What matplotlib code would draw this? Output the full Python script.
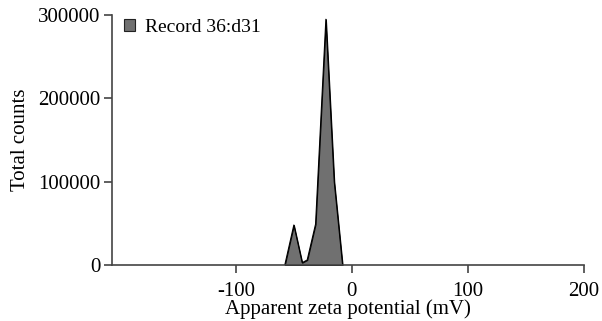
import matplotlib.pyplot as plt

zeta = [-57.8, -50.0, -42.8, -38.5, -31.3, -22.4, -15.2, -8.0]
counts = [0, 48000, 2800, 6000, 49000, 295000, 100000, 0]
label = "Record 36:d31"
xticks = [-100, 0, 100, 200]
yticks = [0, 100000, 200000, 300000]

plt.rcParams['font.family'] = 'Liberation Serif'
plt.rcParams['font.size'] = 15
plt.rcParams['axes.unicode_minus'] = False

fig = plt.figure(figsize=(6.02, 3.21), dpi=100)
ax = fig.add_axes([0.1855, 0.1745, 0.7845, 0.7785])

ax.fill_between(zeta, counts, color='#707070', edgecolor='black', linewidth=0.8, label=label)
ax.plot(zeta, counts, color='black', linewidth=0.8)

ax.set_xlim(-207, 200)
ax.set_ylim(0, 300000)
ax.set_xticks(xticks)
ax.set_yticks(yticks)
ax.set_yticklabels([str(v) for v in yticks])

for s in ['top', 'right']:
    ax.spines[s].set_visible(False)
for s in ['left', 'bottom']:
    ax.spines[s].set_color('#444444')
    ax.spines[s].set_linewidth(1.2)
ax.tick_params(direction='out', length=6, width=1.2, color='#444444', pad=2)
ax.tick_params(axis='x', pad=6)

ax.set_xlabel("Apparent zeta potential (mV)", labelpad=-1)
ax.set_ylabel("Total counts", labelpad=6)

leg = ax.legend(loc='upper left', bbox_to_anchor=(-0.012, 1.055), frameon=False,
                fontsize=14, handlelength=0.6, handleheight=0.6, handletextpad=0.5)
leg.get_patches()[0].set_edgecolor('#222222')

fig.savefig("out.png", dpi=100)
